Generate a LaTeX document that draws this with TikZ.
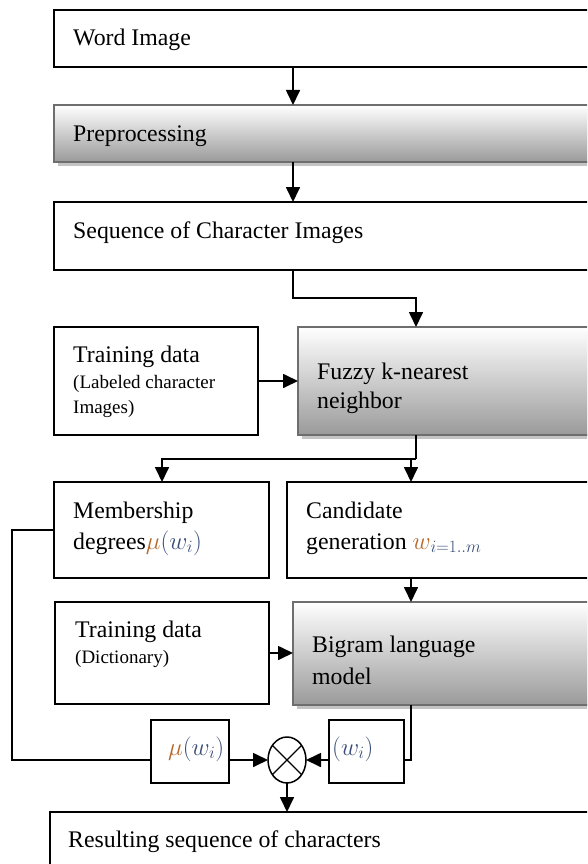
\documentclass[tikz,border=0pt]{standalone}
\usepackage{fontspec}
\setmainfont{Liberation Serif}
\usetikzlibrary{arrows.meta,shapes.geometric}
\definecolor{mucol}{HTML}{B8692A}
\definecolor{wcol}{HTML}{3A4F78}
\definecolor{bordergray}{HTML}{6E6E6E}
\definecolor{shadebot}{HTML}{9A9A9A}
\definecolor{shadowgray}{HTML}{C4C4C4}
\begin{document}
\begin{tikzpicture}[x=1pt,y=-1pt,
  box/.style={draw=black, line width=1.5pt, fill=white, rectangle, inner sep=0pt, outer sep=0pt, anchor=north west},
  gbox/.style={draw=bordergray, line width=2pt, top color=white, bottom color=shadebot, rectangle, inner sep=0pt, outer sep=0pt, anchor=north west},
  shadowbox/.style={fill=shadowgray, draw=none, rectangle, inner sep=0pt, outer sep=0pt, anchor=north west},
  arr/.style={-{Triangle[length=15pt,width=14pt]}, line width=1.7pt},
  wire/.style={line width=1.7pt},
  txt/.style={anchor=base west, inner sep=0pt, font=\fontsize{23.8}{28}\selectfont},
  stxt/.style={anchor=base west, inner sep=0pt, font=\fontsize{19}{23}\selectfont}
]
\useasboundingbox (0,0) rectangle (587,864);
\clip (0,0) rectangle (587,864);
% boxes
\node[box, minimum width=546pt, minimum height=57pt] (word) at (54,10) {};
\node[shadowbox, minimum width=546pt, minimum height=57pt] (preshadow) at (58,109) {};
\node[gbox, minimum width=546pt, minimum height=57pt] (pre) at (54,105) {};
\node[box, minimum width=546pt, minimum height=68pt] (seq) at (54,202) {};
\node[box, minimum width=204pt, minimum height=108pt] (td1) at (54,327) {};
\node[shadowbox, minimum width=302pt, minimum height=108pt] (fuzzyshadow) at (302,331) {};
\node[gbox, minimum width=302pt, minimum height=108pt] (fuzzy) at (298,327) {};
\node[box, minimum width=215pt, minimum height=96pt] (memb) at (54,482) {};
\node[box, minimum width=313pt, minimum height=96pt] (cand) at (287,482) {};
\node[box, minimum width=214pt, minimum height=102pt] (td2) at (55,602) {};
\node[shadowbox, minimum width=307pt, minimum height=103pt] (bigshadow) at (297,606) {};
\node[gbox, minimum width=307pt, minimum height=103pt] (bigram) at (293,602) {};
\node[box, minimum width=78pt, minimum height=63pt] (mu) at (151,720) {};
\node[box, minimum width=75pt, minimum height=63pt] (wi) at (329,720) {};
\node[draw=black, line width=1.5pt, ellipse, minimum width=38pt, minimum height=46pt, inner sep=0pt, outer sep=0pt] (circ) at (287,760) {};
\draw[line width=1.3pt] (circ.45) -- (circ.225) (circ.135) -- (circ.315);
\node[box, minimum width=550pt, minimum height=70pt] (res) at (50,812) {};
% texts
\node[txt] (t1) at (73,46) {Word Image};
\node[txt] (t2) at (73,141) {Preprocessing};
\node[txt] (t3) at (73,238) {Sequence of Character Images};
\node[txt] (t4) at (73,362) {Training data};
\node[stxt] (t5) at (73,388) {(Labeled character};
\node[stxt] (t6) at (73,413) {Images)};
\node[txt] (t7) at (317,379) {Fuzzy k-nearest};
\node[txt] (t8) at (317,408) {neighbor};
\node[txt] (t9) at (73,518) {Membership};
\node[txt] (t10) at (73,549) {degrees$\textcolor{mucol}{\mu}\textcolor{wcol}{(w_i)}$};
\node[txt] (t11) at (306,518) {Candidate};
\node[txt] (t12) at (306,549) {generation $\textcolor{mucol}{w}_{\textcolor{wcol}{i=1..m}}$};
\node[txt] (t13) at (75,637) {Training data};
\node[stxt] (t14) at (75,663) {(Dictionary)};
\node[txt] (t15) at (312,652) {Bigram language};
\node[txt] (t16) at (312,684) {model};
\node[txt] (t17) at (168,755) {$\textcolor{mucol}{\mu}\textcolor{wcol}{(w_i)}$};
\node[txt] (t18) at (332,755) {$\textcolor{wcol}{(w_i)}$};
\node[txt] (t19) at (68,847) {Resulting sequence of characters};
% coordinates
\coordinate (cA) at (293,0);
\coordinate (j1) at (293,298);
\coordinate (j2) at (416,298);
\coordinate (j3) at (416,459);
\coordinate (j4) at (162,459);
\coordinate (j5) at (411,459);
\coordinate (m) at (0,760);
\coordinate (j6) at (12,530);
\coordinate (j7) at (12,760);
% connectors
\draw[arr] (word.south -| cA) -- (pre.north -| cA);
\draw[arr] (pre.south -| cA) -- (seq.north -| cA);
\draw[arr] (seq.south -| j1) -- (j1) -- (j2) -- (fuzzy.north -| j2);
\draw[arr] (td1.east) -- (fuzzy.west |- td1.east);
\draw[wire] (fuzzy.south -| j3) -- (j3);
\draw[arr] (j3) -- (j4) -- (memb.north -| j4);
\draw[arr] (j5) -- (cand.north -| j5);
\draw[arr] (cand.south -| j5) -- (bigram.north -| j5);
\draw[arr] (td2.east) -- (bigram.west |- td2.east);
\draw[wire] (bigram.south -| j5) -- (j5 |- m) -- (wi.east |- m);
\draw[arr] (wi.west |- m) -- (circ.east);
\draw[arr] (mu.east |- m) -- (circ.west);
\draw[wire] (memb.west |- j6) -- (j6) -- (j7) -- (mu.west |- m);
\draw[arr] (circ.south) -- (res.north -| circ.south);
\end{tikzpicture}
\end{document}
